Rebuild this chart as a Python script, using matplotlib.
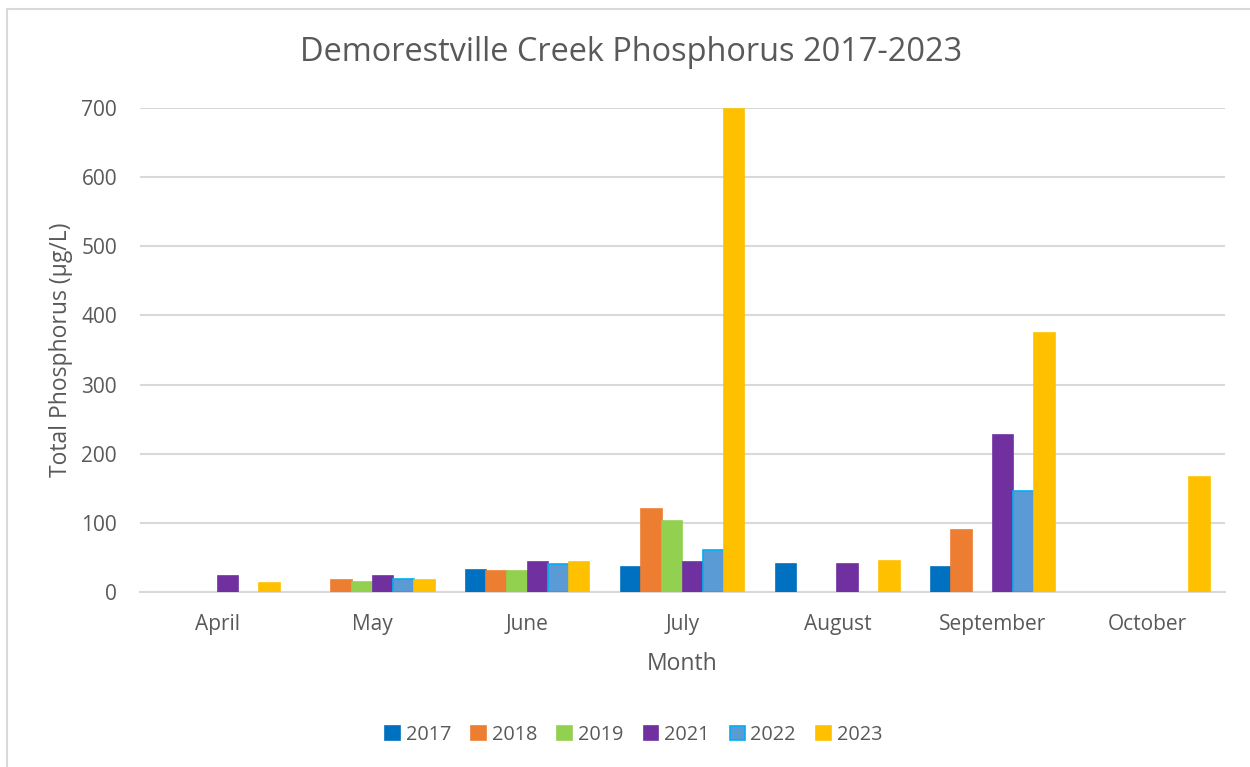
import numpy as np
import matplotlib.pyplot as plt
from matplotlib.lines import Line2D

months = ["April", "May", "June", "July", "August", "September", "October"]
years = ["2017", "2018", "2019", "2021", "2022", "2023"]

nan = np.nan
tp_2017 = [nan, nan, 32, 36, 40, 36, nan]
tp_2018 = [nan, 17, 31, 120, nan, 90, nan]
tp_2019 = [nan, 14, 30, 102, nan, nan, nan]
tp_2021 = [23, 23, 44, 43, 41, 227, nan]
tp_2022 = [nan, 19, 40, 60, nan, 146, nan]
tp_2023 = [13, 17, 43, 698, 45, 374, 166]

series = [tp_2017, tp_2018, tp_2019, tp_2021, tp_2022, tp_2023]
fills = ["#0070C0", "#ED7D31", "#92D050", "#7030A0", "#5B9BD5", "#FFC000"]
edges = ["#0070C0", "#ED7D31", "#92D050", "#7030A0", "#00B0F0", "#FFC000"]

text_color = "#595959"
plt.rcParams["font.family"] = ["Open Sans", "DejaVu Sans"]

fig = plt.figure(figsize=(12.5, 7.67), dpi=100)
ax = fig.add_axes([0.112, 0.2282, 0.868, 0.631])

x = np.arange(len(months))
width = 0.8 / len(series)
for i, (vals, fc, ec, yr) in enumerate(zip(series, fills, edges, years)):
    offset = (i - (len(series) - 1) / 2) * width
    ax.bar(x + offset, vals, width, color=fc, edgecolor=ec, linewidth=1.2,
           label=yr, zorder=3)

ax.set_xlim(-0.5, len(months) - 0.5)
ax.set_ylim(0, 700)
ax.set_yticks(range(0, 701, 100))
ax.set_xticks(x)
ax.set_xticklabels(months)
ax.grid(axis="y", color="#D9D9D9", linewidth=1.5, zorder=0)
ax.tick_params(axis="both", length=0, labelsize=15, colors=text_color)
ax.tick_params(axis="x", pad=16)
ax.tick_params(axis="y", pad=16.5)
for side in ["top", "right", "left"]:
    ax.spines[side].set_visible(False)
ax.spines["bottom"].set_color("#D9D9D9")
ax.spines["bottom"].set_linewidth(1.5)

ax.set_xlabel("Month", fontsize=16.5, color=text_color, labelpad=12)
ax.set_ylabel("Total Phosphorus (µg/L)", fontsize=16.5, color=text_color, labelpad=6)
fig.text(0.505, 0.931, "Demorestville Creek Phosphorus 2017-2023",
         ha="center", va="center", fontsize=23.4, color=text_color)

fig.legend(loc="center", bbox_to_anchor=(0.507, 0.042), ncol=6, frameon=False,
           fontsize=14.3, handlelength=0.75, handleheight=0.75, handletextpad=0.3,
           columnspacing=1.0, labelcolor=text_color)

# chart frame on the left and top edges
fig.add_artist(Line2D([7 / 1250, 7 / 1250, 1.0], [0.0, 1 - 9 / 767, 1 - 9 / 767],
                      transform=fig.transFigure, color="#D9D9D9", linewidth=1.5))

fig.savefig("out.png", dpi=100)
